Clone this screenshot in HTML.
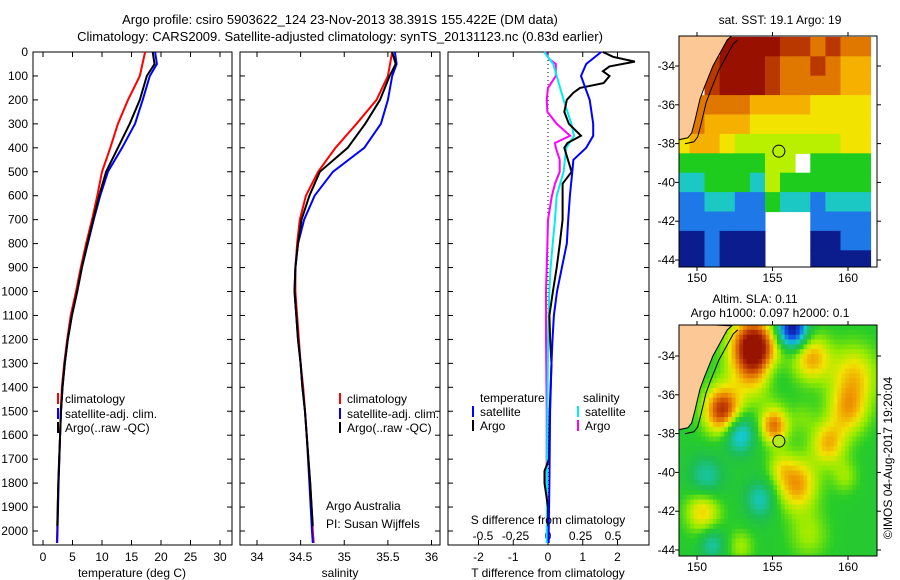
<!DOCTYPE html>
<html><head><meta charset="utf-8"><style>
body{margin:0;background:#fff;}
svg{display:block;font-family:"Liberation Sans",sans-serif;font-size:12px;}
</style></head><body>
<svg id="c" width="900" height="580" viewBox="0 0 900 580" xmlns="http://www.w3.org/2000/svg">
<text x="340" y="24" text-anchor="middle" font-size="13">Argo profile: csiro 5903622_124 23-Nov-2013 38.391S 155.422E (DM data)</text>
<text x="340" y="41" text-anchor="middle" font-size="13">Climatology: CARS2009. Satellite-adjusted climatology: synTS_20131123.nc (0.83d earlier)</text>
<g id="g"></g>
</svg>
<script>
// ---------- data ----------
const depthTicks=[0,100,200,300,400,500,600,700,800,900,1000,1100,1200,1300,1400,1500,1600,1700,1800,1900,2000];
const tempTicks=[0,5,10,15,20,25,30];
const salTicks=[34,34.5,35,35.5,36];
const salTickLabels=['34','34.5','35','35.5','36'];
const tdTicks=[-2,-1,0,1,2];
const sdTicks=[-0.5,-0.25,0,0.25,0.5];
const sdTickLabels=['-0.5','-0.25','0','0.25','0.5'];

const depthsClim=[0,100,200,300,400,500,600,700,800,900,1000,1100,1200,1300,1400,1500,1600,1800,2000,2050];
const tempClim=[17.3,16.4,14.4,12.7,11.4,10.0,9.2,8.3,7.3,6.4,5.6,4.7,4.1,3.6,3.2,3.0,2.9,2.6,2.4,2.35];
const salClim=[35.55,35.5,35.37,35.14,34.9,34.7,34.56,34.49,34.46,34.44,34.44,34.46,34.48,34.5,34.53,34.55,34.57,34.61,34.64,34.65];
const depthsSat=[0,50,100,200,300,400,500,600,700,800,900,1000,1100,1200,1300,1400,1500,1600,1800,2000,2050];
const tempSat=[19.0,19.3,18.1,16.9,15.6,13.4,11.0,9.7,8.6,7.6,6.6,5.8,4.9,4.2,3.7,3.3,3.05,2.9,2.65,2.45,2.4];
const salSat=[35.58,35.6,35.55,35.5,35.42,35.23,34.87,34.66,34.54,34.47,34.44,34.43,34.45,34.47,34.5,34.52,34.55,34.57,34.6,34.63,34.64];
const depthsArgo=[0,50,100,200,300,400,500,600,700,800,900,1000,1100,1200,1300,1400,1500,1600,1800,1980];
const tempArgo=[18.6,18.9,17.6,16.4,14.7,12.7,10.7,9.5,8.5,7.5,6.6,5.8,4.9,4.2,3.7,3.3,3.05,2.9,2.6,2.42];
const salArgo=[35.55,35.59,35.52,35.41,35.24,35.04,34.72,34.6,34.51,34.47,34.44,34.43,34.45,34.47,34.5,34.52,34.55,34.57,34.61,34.64];

const dDepthT=[0,50,100,200,300,350,400,450,500,600,700,800,900,1000,1100,1200,1300,1500,1800,2000,2050];
const dTempSat=[1.53,1.1,0.95,1.2,1.3,1.3,1.1,0.73,0.7,0.63,0.58,0.54,0.4,0.26,0.17,0.13,0.1,0.06,0.04,0.02,0.02];
const dDepthA=[0,20,40,60,80,100,130,150,170,200,250,300,350,380,400,500,550,600,700,800,900,1000,1100,1200,1300,1500,1700,1750,1800,1900,1980];
const dTempArgo=[1.58,1.87,2.5,1.77,1.58,1.77,1.6,0.92,0.73,0.54,0.47,0.6,0.95,0.56,0.47,0.68,0.42,0.42,0.42,0.34,0.25,0.14,0.04,0.06,0.1,0.05,0.03,-0.1,-0.1,0.0,0.0];
const dDepthS=[0,50,100,200,300,350,400,500,600,700,800,900,1000,1200,1500,2000,2050];
const dSalSat=[-0.03,0.04,0.067,0.12,0.18,0.2,0.14,0.12,0.067,0.054,0.036,0.02,0.01,0.0,-0.005,-0.01,-0.01];
const dDepthSA=[0,30,50,100,150,200,250,300,350,380,400,450,500,550,600,700,800,900,1000,1200,1500,1800,2000,2050];
const dSalArgo=[-0.02,0.01,0.06,0.06,0.0,-0.01,-0.005,0.067,0.17,0.054,0.06,0.09,0.09,0.054,0.03,0.0,-0.005,-0.01,-0.015,-0.015,-0.01,-0.01,0.0,0.0];

// SST map: lon 149..161 (1deg cells), lat -33..-44; level 0-9, -1 missing, -2 land
const sstLons=[149,150,151,152,153,154,155,156,157,158,159,160,161];
const sstLats=[-33,-34,-35,-36,-37,-38,-39,-40,-41,-42,-43,-44];
const sstLevels=[
[-2,-2,-2,9,9,9,9,8,8,7,8,7,7],
[-2,-2,8,9,9,9,8,7,7,8,7,6,6],
[-2,-2,8,9,9,9,8,7,7,7,7,6,6],
[-2,7,7,7,7,6,6,6,6,5,5,5,5],
[-2,7,6,6,6,5,5,5,5,5,5,5,5],
[5,6,6,5,4,4,4,4,4,4,4,5,5],
[3,3,3,3,3,3,4,4,-1,3,3,3,3],
[2,2,3,3,3,2,4,3,3,3,3,3,3],
[1,1,2,2,1,1,3,2,2,1,2,2,2],
[1,1,1,1,1,1,-1,-1,-1,1,1,1,1],
[0,0,1,0,0,0,-1,-1,-1,0,0,1,1],
[0,0,1,0,0,0,-1,-1,-1,0,0,0,0]];
const sstColors=['#0b1c8c','#1f78e8','#1cc8c4','#1ecc1e','#b8f000','#f2e400','#f5b000','#e07800','#b83800','#981000'];

// SLA eddies: lon, lat, amplitude (m), radius (deg)
const slaLon=[154,151.7,155.1,156.3,152.8,155,150.6,154.2,151,157.6,160.4,160,158.7,156.6,150.4,157.4,159.8,155.5,152.9,157,153.6];
const slaLat=[-34.2,-36.8,-37.6,-32.6,-38,-34.8,-40.3,-41.4,-43.7,-34.1,-35,-36.8,-38.5,-40.6,-42,-43.2,-40.2,-39.7,-43.8,-37.2,-33.2];
const slaAmp=[0.5,0.5,0.38,-0.65,-0.32,-0.2,-0.2,-0.22,-0.2,0.3,0.25,0.26,0.28,0.33,0.26,0.13,0.12,0.12,0.13,0.08,0.3];
const slaRad=[1.2,0.85,0.65,0.7,0.7,0.8,0.8,0.7,0.6,0.85,1.1,0.9,0.8,0.95,0.8,0.9,0.6,0.6,0.6,0.6,0.9];

const coastLon=[152.3,152.0,151.05,150.5,150.2,149.87,149.65,149.4,148.8];
const coastLat=[-32.45,-32.66,-34.0,-35.07,-35.7,-36.8,-37.45,-37.7,-37.8];
const argoLon=155.422, argoLat=-38.391;

// ---------- drawing ----------
const NS='http://www.w3.org/2000/svg';
const G=document.getElementById('g');
function el(tag,attrs,parent){const e=document.createElementNS(NS,tag);for(const k in attrs)e.setAttribute(k,attrs[k]);(parent||G).appendChild(e);return e;}
function txt(x,y,s,anchor,parent){const t=el('text',{x:x,y:y,'text-anchor':anchor||'middle'},parent);t.textContent=s;return t;}

const yD=d=>52+d*0.2395;
const TOP=52,BOT=545;
const panels=[
 {x0:33,x1:232,f:v=>43+v*5.9,name:'temperature-panel'},
 {x0:240,x1:440,f:v=>257+(v-34)*87.25,name:'salinity-panel'},
 {x0:448,x1:649,f:v=>548+v*34.75,name:'difference-panel'}];
const sdX=v=>548+v*130;

panels.forEach((p,i)=>{
  const g=el('g',{});
  
  
  p.g=g;
  el('rect',{x:p.x0,y:TOP,width:p.x1-p.x0,height:BOT-TOP,fill:'none',stroke:'#000','stroke-width':1},g);
  depthTicks.forEach(d=>{
    el('line',{x1:p.x0,x2:p.x0+5,y1:yD(d),y2:yD(d),stroke:'#000'},g);
    el('line',{x1:p.x1,x2:p.x1-5,y1:yD(d),y2:yD(d),stroke:'#000'},g);
    if(i==0){const t=txt(28,yD(d)+4,String(d),'end',g);}
  });
});
function xTicks(p,vals,labels,f,y,top,bottom){
  vals.forEach((v,k)=>{
    const x=f(v);
    if(bottom)el('line',{x1:x,x2:x,y1:BOT,y2:BOT-5,stroke:'#000'},p.g);
    if(top)el('line',{x1:x,x2:x,y1:TOP,y2:TOP+5,stroke:'#000'},p.g);
    if(labels){const t=txt(x,y,labels[k],'middle',p.g);}
  });
}
xTicks(panels[0],tempTicks,tempTicks.map(String),panels[0].f,561,true,true);
xTicks(panels[1],salTicks,salTickLabels,panels[1].f,561,true,true);
xTicks(panels[2],tdTicks,tdTicks.map(String),panels[2].f,561,true,true);
sdTickLabels.forEach((s,k)=>{const t=txt(sdX(sdTicks[k]),540,s,'middle',panels[2].g);});
[['temperature (deg C)',132],['salinity',340],['T difference from climatology',548]].forEach(a=>{
  const t=txt(a[1],577,a[0]);});
{const t=txt(548,524,'S difference from climatology');}

el('line',{x1:548,x2:548,y1:TOP,y2:BOT,stroke:'#000','stroke-dasharray':'1,3'},panels[2].g);

function line(p,f,depths,vals,color,name){
  const pts=depths.map((d,k)=>f(vals[k]).toFixed(1)+','+yD(d).toFixed(1)).join(' ');
  const pl=el('polyline',{points:pts,fill:'none',stroke:color,'stroke-width':2},p.g);
  
  
}
line(panels[0],panels[0].f,depthsClim,tempClim,'#f00','temp-climatology-line');
line(panels[0],panels[0].f,depthsSat,tempSat,'#00f','temp-satellite-line');
line(panels[0],panels[0].f,depthsArgo,tempArgo,'#000','temp-argo-line');
line(panels[1],panels[1].f,depthsClim,salClim,'#f00','sal-climatology-line');
line(panels[1],panels[1].f,depthsSat,salSat,'#00f','sal-satellite-line');
line(panels[1],panels[1].f,depthsArgo,salArgo,'#000','sal-argo-line');
line(panels[2],sdX,dDepthSA,dSalArgo,'#f0f','s-diff-argo-line');
line(panels[2],sdX,dDepthS,dSalSat,'#0ee','s-diff-satellite-line');
line(panels[2],panels[2].f,dDepthA,dTempArgo,'#000','t-diff-argo-line');
line(panels[2],panels[2].f,dDepthT,dTempSat,'#00f','t-diff-satellite-line');

function legend(p,x,y,color,label){
  const g=el('g',{},p.g);
  
  
  el('rect',{x:x,y:y-10,width:2,height:11,fill:color},g);
  txt(x+8,y,label,'start',g);
}
[[panels[0],57],[panels[1],339]].forEach(a=>{
  legend(a[0],a[1],403,'#f00','climatology');
  legend(a[0],a[1],418,'#00f','satellite-adj. clim.');
  legend(a[0],a[1],432,'#000','Argo(..raw -QC)');
});
{const t=txt(480,402,'temperature','start',panels[2].g);
 const t2=txt(583,402,'salinity','start',panels[2].g);}
legend(panels[2],472,416,'#00f','satellite');
legend(panels[2],472,430,'#000','Argo');
legend(panels[2],577,416,'#0ee','satellite');
legend(panels[2],577,430,'#f0f','Argo');
{const t=txt(326,510,'Argo Australia','start');
 const t2=txt(326,528,'PI: Susan Wijffels','start');}

// ---------- maps ----------
const MX0=679,MX1=877;
const mx=lon=>697+(lon-150)*15.1;
function makeMap(yTop,yBot,lat34,name){
  const my=lat=>lat34+(-34-lat)*19.4;
  const g=el('g',{});
  
  
  const cid='clip'+name;
  const cp=el('clipPath',{id:cid},g);
  el('rect',{x:MX0,y:yTop,width:MX1-MX0,height:yBot-yTop},cp);
  const inner=el('g',{'clip-path':'url(#'+cid+')'},g);
  return {g,inner,my,yTop,yBot};
}
function mapFrame(m,lats,lons,labelY){
  el('rect',{x:MX0,y:m.yTop,width:MX1-MX0,height:m.yBot-m.yTop,fill:'none',stroke:'#000'},m.g);
  lats.forEach(l=>{const y=m.my(l);
    el('line',{x1:MX0,x2:MX0-4,y1:y,y2:y,stroke:'#000'},m.g);
    el('line',{x1:MX1,x2:MX1+4,y1:y,y2:y,stroke:'#000'},m.g);
    const t=txt(675,y+4,String(l),'end',m.g);});
  lons.forEach(l=>{const x=mx(l);
    el('line',{x1:x,x2:x,y1:m.yTop,y2:m.yTop-4,stroke:'#000'},m.g);
    el('line',{x1:x,x2:x,y1:m.yBot,y2:m.yBot+4,stroke:'#000'},m.g);
    const t=txt(x,labelY,String(l),'middle',m.g);});
}
function land(m){
  const pts=coastLon.map((l,k)=>mx(l).toFixed(1)+','+m.my(coastLat[k]).toFixed(1));
  const p=el('polygon',{points:[...pts,MX0-2+','+m.my(coastLat[coastLat.length-1]).toFixed(1),(MX0-2)+','+(m.yTop-2)].join(' '),fill:'#fbc896',stroke:'#000','stroke-width':1},m.inner);
  
  
  const sh=coastLon.map((l,k)=>(mx(l)+6).toFixed(1)+','+(m.my(coastLat[k])+4).toFixed(1)).join(' ');
  el('polyline',{points:sh,fill:'none',stroke:'#000','stroke-width':1},m.inner);
}
const m1=makeMap(36,267,66,'sst-map');
sstLats.forEach((lat,r)=>sstLons.forEach((lon,c)=>{
  const v=sstLevels[r][c]; if(v<0)return;
  const x=mx(lon-0.5),y=m1.my(lat+0.5);
  const rc=el('rect',{x:x.toFixed(1),y:y.toFixed(1),width:15.6,height:20,fill:sstColors[v]},m1.inner);
  
  
}));
land(m1);
{const c=el('circle',{cx:mx(argoLon),cy:m1.my(argoLat),r:6,fill:'none',stroke:'#000'},m1.g);}
mapFrame(m1,[-34,-36,-38,-40,-42,-44],[150,155,160],282);
{const t=txt(780,24,'sat. SST: 19.1 Argo: 19');}

const m2=makeMap(325,556,356,'sla-map');
function slaColor(v){
  const stops=[[-0.65,[10,10,140]],[-0.45,[20,80,230]],[-0.25,[20,200,210]],[-0.08,[30,190,80]],[0.02,[40,205,40]],[0.12,[150,235,0]],[0.22,[240,230,0]],[0.33,[240,150,0]],[0.45,[200,70,0]],[0.55,[150,20,0]]];
  if(v<=stops[0][0])return 'rgb('+stops[0][1]+')';
  for(let k=1;k<stops.length;k++){if(v<=stops[k][0]){const a=stops[k-1],b=stops[k],t=(v-a[0])/(b[0]-a[0]);
    return 'rgb('+a[1].map((c,i)=>Math.round(c+(b[1][i]-c)*t)).join(',')+')';}}
  return 'rgb('+stops[stops.length-1][1]+')';
}
for(let lon=148.8;lon<162;lon+=0.25){for(let lat=-32.4;lat>-44.6;lat-=0.25){
  let v=0;
  slaLon.forEach((L,k)=>{const dx=(lon+0.125-L),dy=(lat-0.125-slaLat[k]);v+=slaAmp[k]*Math.exp(-(dx*dx+dy*dy)/(2*slaRad[k]*slaRad[k]));});
  const rc=el('rect',{x:mx(lon).toFixed(1),y:m2.my(lat).toFixed(1),width:4.3,height:5.4,fill:slaColor(v)},m2.inner);
  
  
}}
land(m2);
{const c=el('circle',{cx:mx(argoLon),cy:m2.my(argoLat),r:6,fill:'#b4ea20',stroke:'#000'},m2.g);}
mapFrame(m2,[-34,-36,-38,-40,-42,-44],[150,155,160],571);
{const t=txt(755,303,'Altim. SLA: 0.11');
 const t2=txt(770,317,'Argo h1000: 0.097 h2000: 0.1');
 const t3=txt(0,0,'©IMOS 04-Aug-2017 19:20:04');t3.setAttribute('transform','translate(892,458) rotate(-90)');
 }
</script>
</body></html>
